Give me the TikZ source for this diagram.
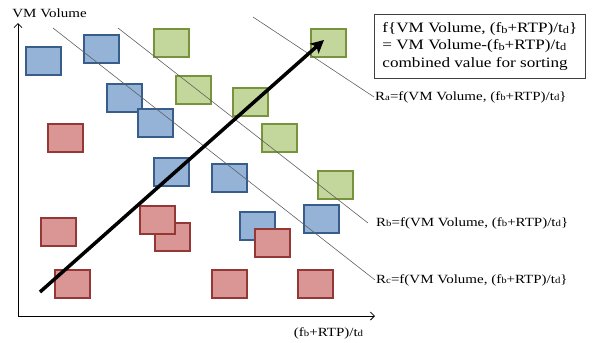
\documentclass[tikz,border=0pt]{standalone}
\usepackage{fontspec}
\usepackage{graphicx}
\setmainfont[FakeStretch=1.2]{Liberation Serif}
\usetikzlibrary{arrows.meta}
\newcommand\lsub[1]{\raisebox{-0.1ex}{\scalebox{0.72}{#1}}}
\definecolor{bfill}{HTML}{95B3D7}
\definecolor{bline}{HTML}{385D8A}
\definecolor{gfill}{HTML}{C3D69B}
\definecolor{gline}{HTML}{77933C}
\definecolor{rfill}{HTML}{D99694}
\definecolor{rline}{HTML}{953735}
\definecolor{diag}{HTML}{606060}
\tikzset{
  box/.style={draw, line width=2pt, minimum width=35pt, minimum height=28pt, inner sep=0pt},
  bbox/.style={box, draw=bline, fill=bfill},
  gbox/.style={box, draw=gline, fill=gfill},
  rbox/.style={box, draw=rline, fill=rfill},
  diagline/.style={draw=diag, line width=0.6pt},
  lbl/.style={font=\fontsize{12.5}{14}\selectfont, inner sep=1pt},
  axis/.style={line width=0.8pt, -{Straight Barb[length=4pt,width=8pt]}},
  bigarrow/.style={line width=3.5pt, -{Stealth[length=13pt,width=13pt,inset=3pt]}},
  infobox/.style={draw=black!75, line width=0.8pt, minimum height=64pt,
    align=left, inner xsep=8pt, inner ysep=0pt, font=\fontsize{14.3}{17.5}\selectfont}
}
\begin{document}
\begin{tikzpicture}[x=1pt,y=-1pt]
\useasboundingbox (0,0) rectangle (595,343);
% boxes
\node[bbox] (b1) at (43.5,60.5) {};
\node[bbox] (b2) at (101,48.5) {};
\node[gbox] (g1) at (171.5,43) {};
\node[bbox] (b3) at (124.5,98) {};
\node[gbox] (g2) at (193,90) {};
\node[bbox] (b4) at (155,123) {};
\node[gbox] (g3) at (250,102) {};
\node[rbox] (r1) at (65,137.5) {};
\node[gbox] (g4) at (279,137.5) {};
\node[bbox] (b5) at (171.5,172) {};
\node[bbox] (b6) at (229,178) {};
\node[gbox] (g5) at (328.5,43) {};
\node[gbox] (g6) at (335.5,185) {};
\node[bbox] (b7) at (321.5,219) {};
\node[rbox] (r2) at (58,231.5) {};
\node[rbox] (r3) at (172,237) {};
\node[rbox] (r4) at (157.5,219.5) {};
\node[bbox] (b8) at (257,226) {};
\node[rbox] (r5) at (272,243) {};
\node[rbox] (r6) at (72,284) {};
\node[rbox] (r7) at (229,284) {};
\node[rbox] (r8) at (315,284) {};
% diagonal lines and labels
\node[lbl, anchor=west] (la) at (374,97) {R\lsub{a}=f(VM Volume, (f\lsub{b}+RTP)/t\lsub{d}\}};
\node[lbl, anchor=west] (lb) at (375,223) {R\lsub{b}=f(VM Volume, (f\lsub{b}+RTP)/t\lsub{d}\}};
\node[lbl, anchor=west] (lc) at (375,280) {R\lsub{c}=f(VM Volume, (f\lsub{b}+RTP)/t\lsub{d}\}};
\coordinate (a0) at (253,17);
\coordinate (bs) at (118,28);
\coordinate (be) at (368,223);
\coordinate (c0) at (53,28);
\draw[diagline] (a0) -- (la.west);
\draw[diagline] (bs) -- (be);
\draw[diagline] (c0) -- (lc.west);
% info box
\node[infobox, anchor=north west] (info) at (374,14) {f\{VM Volume, (f\lsub{b}+RTP)/t\lsub{d}\}\\= VM Volume-(f\lsub{b}+RTP)/t\lsub{d}\\combined value for sorting};
% big arrow
\coordinate (s) at (40,292);
\coordinate (t) at (324,40);
\draw[bigarrow] (s) -- (t);
% axes
\coordinate (O) at (18,316);
\coordinate (ytop) at (18,23);
\coordinate (xend) at (375,316);
\draw[axis] (O) -- (ytop);
\draw[axis] (O) -- (xend);
\node[lbl] (ylab) at (49.5,13.5) {VM Volume};
\node[lbl] (xlab) at (328.5,333) {(f\lsub{b}+RTP)/t\lsub{d}};
\end{tikzpicture}
\end{document}
